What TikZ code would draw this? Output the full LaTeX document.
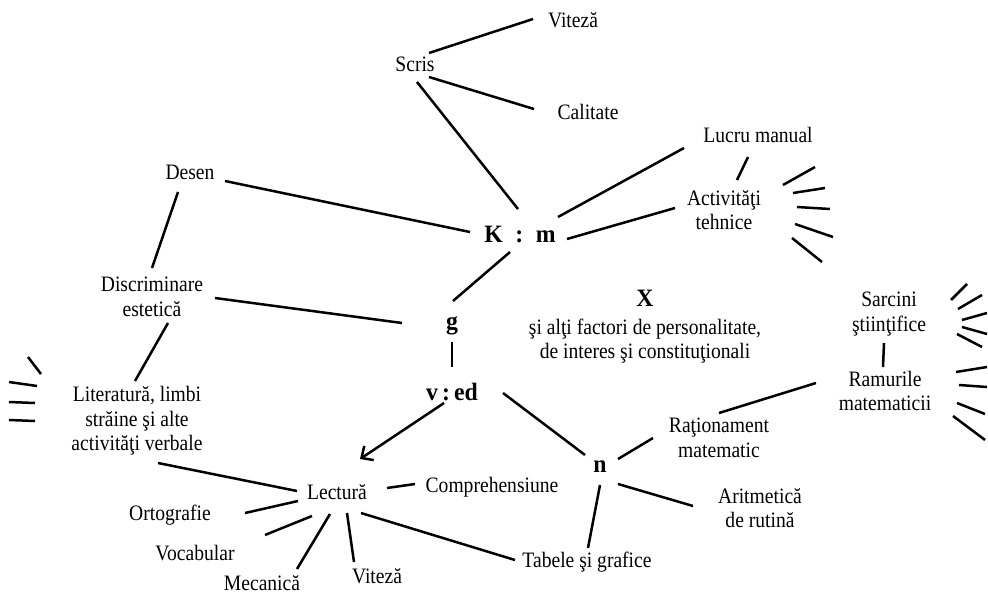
\documentclass[tikz,border=0pt]{standalone}
\usepackage{fontspec}
\setmainfont{Liberation Serif}[FakeStretch=0.89]
\newfontfamily\facfont{Liberation Serif}[FakeStretch=0.95]
\usetikzlibrary{arrows.meta}
\begin{document}
\begin{tikzpicture}[x=1pt,y=-1pt,
  line width=2.5pt,
  lbl/.style={inner sep=0pt,align=center,font=\fontsize{22}{24.5}\selectfont},
  fac/.style={inner sep=0pt,font=\facfont\fontsize{25}{28}\selectfont\bfseries},
  barb/.style={-{Straight Barb[length=9pt,width=17pt]}}]
\newcommand\link[5][]{\draw[#1] ([shift={#3}]#2.center) -- ([shift={#5}]#4.center);}
\useasboundingbox (0,0) rectangle (988,594);

% factors
\node[fac] (km) at (520,234) {K\enspace:\enspace m};
\node[fac] (g) at (452,326) {g};
\node[fac] (ved) at (452,392) {v\,:\,ed};
\node[fac] (n) at (600,467) {n};
\node[fac] (X) at (645,298) {X};
\node[lbl] (xtxt) at (645,341) {şi alţi factori de personalitate,\\de interes şi constituţionali};

% abilities
\node[lbl] (vit1) at (573,20) {Viteză};
\node[lbl] (scris) at (415,64) {Scris};
\node[lbl] (cal) at (588,112) {Calitate};
\node[lbl] (lucru) at (758,135) {Lucru manual};
\node[lbl] (activ) at (724,210) {Activităţi\\tehnice};
\node[lbl] (desen) at (190,172) {Desen};
\node[lbl] (discr) at (152,297) {Discriminare\\estetică};
\node[lbl] (sarc) at (889,314) {Sarcini\\ştiinţifice};
\node[lbl] (ramur) at (885,391) {Ramurile\\matematicii};
\node[lbl] (lit) at (137,421) {Literatură, limbi\\străine şi alte\\activităţi verbale};
\node[lbl] (rat) at (719,438) {Raţionament\\matematic};
\node[lbl] (arit) at (760,508) {Aritmetică\\de rutină};
\node[lbl] (lect) at (337,492) {Lectură};
\node[lbl] (comp) at (492,487) {Comprehensiune};
\node[lbl] (orto) at (170,515) {Ortografie};
\node[lbl] (voc) at (195,553) {Vocabular};
\node[lbl] (mec) at (262,583) {Mecanică};
\node[lbl] (vit2) at (377,576) {Viteză};
\node[lbl] (tab) at (587,562) {Tabele şi grafice};

% connectors
\link{scris}{(14,-11)}{vit1}{(-40,-1)}
\link{scris}{(14,13)}{cal}{(-54,-3)}
\link{scris}{(2,18)}{km}{(-2,-25)}
\link{lucru}{(-74,13)}{km}{(38,-17)}
\link{lucru}{(-10,22)}{activ}{(13,-30)}
\link{activ}{(-49,-2)}{km}{(47,5)}
\link{desen}{(35,9)}{km}{(-50,-2)}
\link{desen}{(-12,20)}{discr}{(0,-29)}
\link{km}{(-10,18)}{g}{(1,-25)}
\link{discr}{(63,1)}{g}{(-50,-3)}
\link{discr}{(16,26)}{lit}{(-2,-40)}
\link{g}{(0,16)}{ved}{(0,-25)}
\link[barb]{ved}{(-8,11)}{lect}{(23,-33)}
\link{ved}{(51,1)}{n}{(-15,-12)}
\link{n}{(18,-8)}{rat}{(-66,0)}
\link{rat}{(0,-25)}{ramur}{(-69,-8)}
\link{ramur}{(-2,-24)}{sarc}{(-5,29)}
\link{n}{(18,17)}{arit}{(-67,-2)}
\link{n}{(0,18)}{tab}{(1,-14)}
\link{lit}{(21,42)}{lect}{(-40,-1)}
\link{lect}{(50,-4)}{comp}{(-77,-3)}
\link{lect}{(-39,9)}{orto}{(75,-2)}
\link{lect}{(-25,24)}{voc}{(70,-18)}
\link{lect}{(-7,22)}{mec}{(35,-14)}
\link{lect}{(10,21)}{vit2}{(-23,-14)}
\link{lect}{(24,21)}{tab}{(-72,-2)}

% open-ended strokes (further specific abilities)
\draw (783,185) -- (815,167);
\draw (793,193) -- (825,188);
\draw (797,207) -- (830,209);
\draw (795,224) -- (833,237);
\draw (792,238) -- (822,262);

\draw (951,300) -- (967,284);
\draw (958,309) -- (982,295);
\draw (962,320) -- (987,313);
\draw (962,327) -- (987,334);
\draw (957,334) -- (982,347);
\draw (956,372) -- (987,367);
\draw (959,385) -- (987,387);
\draw (957,403) -- (985,414);
\draw (953,416) -- (985,440);

\draw (28,357) -- (41,374);
\draw (9,382) -- (37,386);
\draw (9,402) -- (35,403);
\draw (9,420) -- (35,421);
\end{tikzpicture}
\end{document}
